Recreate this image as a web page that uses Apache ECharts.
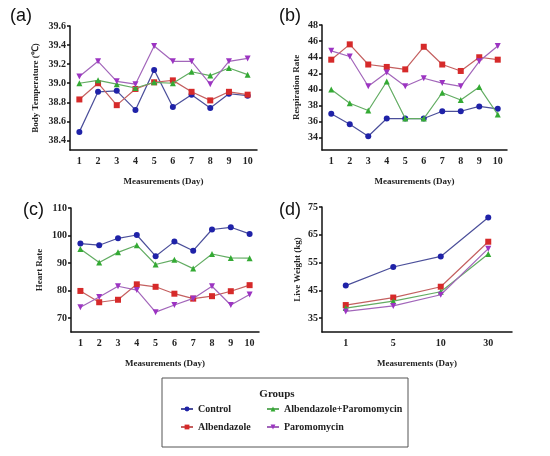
<!DOCTYPE html>
<html>
<head>
<meta charset="utf-8">
<script src="https://cdn.jsdelivr.net/npm/echarts@6/dist/echarts.min.js"></script>
<style>
    html, body { margin: 0; padding: 0; background: #fff; }
    #chart { width: 550px; height: 456px; }
</style>
</head>
<body>
<div id="chart"></div>
<script>
"use strict";
const groups = ['Control', 'Albendazole', 'Albendazole+Paromomycin', 'Paromomycin'];
const days10 = ['1', '2', '3', '4', '5', '6', '7', '8', '9', '10'];
const daysWeight = ['1', '5', '10', '30'];

// (a) body temperature
const tempControl = [38.49, 38.91, 38.92, 38.72, 39.14, 38.75, 38.88, 38.74, 38.89, 38.87];
const tempAlb = [38.83, 39.00, 38.77, 38.94, 39.01, 39.03, 38.91, 38.82, 38.91, 38.88];
const tempAlbPar = [39.00, 39.03, 38.99, 38.95, 39.01, 39.00, 39.12, 39.08, 39.16, 39.09];
const tempPar = [39.07, 39.23, 39.02, 38.99, 39.39, 39.23, 39.23, 38.99, 39.23, 39.26];
const tempTicks = [38.4, 38.6, 38.8, 39.0, 39.2, 39.4, 39.6];

// (b) respiration rate
const respControl = [37.0, 35.7, 34.2, 36.4, 36.4, 36.4, 37.3, 37.3, 37.9, 37.6];
const respAlb = [43.7, 45.6, 43.1, 42.8, 42.5, 45.3, 43.1, 42.3, 44.0, 43.7];
const respAlbPar = [40.0, 38.3, 37.4, 41.0, 36.4, 36.4, 39.6, 38.7, 40.3, 36.9];
const respPar = [44.8, 44.1, 40.4, 42.1, 40.4, 41.4, 40.8, 40.4, 43.5, 45.4];
const respTicks = [34, 36, 38, 40, 42, 44, 46, 48];

// (c) heart rate
const heartControl = [97.1, 96.5, 99.0, 100.2, 92.5, 97.8, 94.5, 102.2, 103.0, 100.6];
const heartAlb = [79.9, 75.8, 76.7, 82.3, 81.4, 78.9, 77.1, 78.0, 79.8, 82.0];
const heartAlbPar = [95.1, 90.2, 93.9, 96.5, 89.5, 91.2, 88.0, 93.3, 91.9, 91.8];
const heartPar = [74.0, 77.7, 81.6, 80.2, 72.2, 74.8, 77.2, 81.6, 74.8, 78.6];
const heartTicks = [70, 80, 90, 100, 110];

// (d) live weight
const weightControl = [46.7, 53.4, 57.2, 71.2];
const weightAlb = [39.7, 42.4, 46.3, 62.5];
const weightAlbPar = [38.6, 41.1, 44.5, 58.1];
const weightPar = [37.4, 39.4, 43.4, 60.0];
const weightTicks = [35, 45, 55, 65, 75];

(() => {
    let chart = echarts.init(document.getElementById('chart'));
    const serif = 'Liberation Serif';
    const markerColors = ['#1f22a8', '#d62a2a', '#34aa34', '#9c34c2'];
    const lineColors = ['#4b4f9a', '#c46060', '#62ac62', '#a266ba'];
    const symbols = ['circle', 'rect', 'triangle', 'triangle'];
    const rotations = [0, 0, 0, 180];

    const grids = [
        {left: 70, top: 26, width: 187, height: 124},
        {left: 322, top: 25, width: 185, height: 125},
        {left: 71, top: 208, width: 188, height: 124},
        {left: 322, top: 207, width: 190, height: 125}
    ];
    const yNames = ['Body Temperature (℃)', 'Respiration Rate', 'Heart Rate', 'Live Weight (kg)'];
    const yRanges = [[38.3, 39.6], [32.5, 48], [65, 110], [30, 75]];
    const yTicks = [tempTicks, respTicks, heartTicks, weightTicks];
    const yGaps = [30, 21, 27, 20];
    const panelData = [
        [tempControl, tempAlb, tempAlbPar, tempPar],
        [respControl, respAlb, respAlbPar, respPar],
        [heartControl, heartAlb, heartAlbPar, heartPar],
        [weightControl, weightAlb, weightAlbPar, weightPar]
    ];

    const axisLine = {lineStyle: {color: '#111', width: 1.5}};
    const axisTick = {lineStyle: {color: '#111', width: 1.5}, length: 3};
    const labelStyle = {color: '#222', fontFamily: serif, fontWeight: 'bold', fontSize: 10};
    const nameStyle = {color: '#222', fontFamily: serif, fontWeight: 'bold', fontSize: 9};

    let xAxis = [], yAxis = [], series = [];
    for (let i = 0; i < 4; ++i) {
        xAxis.push({
            type: 'category',
            gridIndex: i,
            data: i === 3 ? daysWeight : days10,
            boundaryGap: true,
            name: 'Measurements (Day)',
            nameLocation: 'middle',
            nameGap: 27,
            nameTextStyle: nameStyle,
            axisLine: axisLine,
            axisTick: Object.assign({alignWithLabel: true}, axisTick),
            axisLabel: Object.assign({margin: 6, interval: 0}, labelStyle),
            splitLine: {show: false}
        });
        yAxis.push({
            type: 'value',
            gridIndex: i,
            min: yRanges[i][0],
            max: yRanges[i][1],
            name: yNames[i],
            nameLocation: 'middle',
            nameGap: yGaps[i],
            nameTextStyle: nameStyle,
            axisLine: Object.assign({show: true}, axisLine),
            axisTick: Object.assign({show: true, customValues: yTicks[i]}, axisTick),
            axisLabel: Object.assign({
                margin: 4,
                customValues: yTicks[i],
                formatter: i === 0 ? (v => v.toFixed(1)) : (v => String(v))
            }, labelStyle),
            splitLine: {show: false}
        });
        for (let g = 0; g < 4; ++g) {
            series.push({
                name: groups[g],
                type: 'line',
                xAxisIndex: i,
                yAxisIndex: i,
                data: panelData[i][g],
                symbol: symbols[g],
                symbolRotate: rotations[g],
                symbolSize: 6,
                showAllSymbol: true,
                lineStyle: {color: lineColors[g], width: 1.2},
                itemStyle: {color: markerColors[g]},
                z: 2 + g
            });
        }
    }

    const letterStyle = {fontFamily: 'Liberation Sans', fontSize: 18, color: '#111', fontWeight: 'normal'};
    const legendText = {fontFamily: serif, fontWeight: 'bold', fontSize: 10, color: '#222'};

    chart.setOption({
        animation: false,
        backgroundColor: '#fff',
        title: [
            {text: '(a)', left: 5, top: 2, textStyle: letterStyle},
            {text: '(b)', left: 274, top: 2, textStyle: letterStyle},
            {text: '(c)', left: 18, top: 196, textStyle: letterStyle},
            {text: '(d)', left: 274, top: 196, textStyle: letterStyle},
            {text: 'Groups', left: 272, top: 384, textAlign: 'center',
                textStyle: {fontFamily: serif, fontWeight: 'bold', fontSize: 11, color: '#222'}}
        ],
        graphic: [{
            type: 'rect',
            shape: {x: 162, y: 378, width: 246, height: 69},
            style: {fill: 'none', stroke: '#555', lineWidth: 1}
        }],
        legend: [
            {
                data: ['Control', 'Albendazole'],
                orient: 'vertical',
                left: 175, top: 399,
                itemWidth: 12, itemHeight: 6, itemGap: 8,
                textStyle: legendText
            },
            {
                data: ['Albendazole+Paromomycin', 'Paromomycin'],
                orient: 'vertical',
                left: 261, top: 399,
                itemWidth: 12, itemHeight: 6, itemGap: 8,
                textStyle: legendText
            }
        ],
        grid: grids,
        xAxis: xAxis,
        yAxis: yAxis,
        series: series
    });
})();
</script>
</body>
</html>
